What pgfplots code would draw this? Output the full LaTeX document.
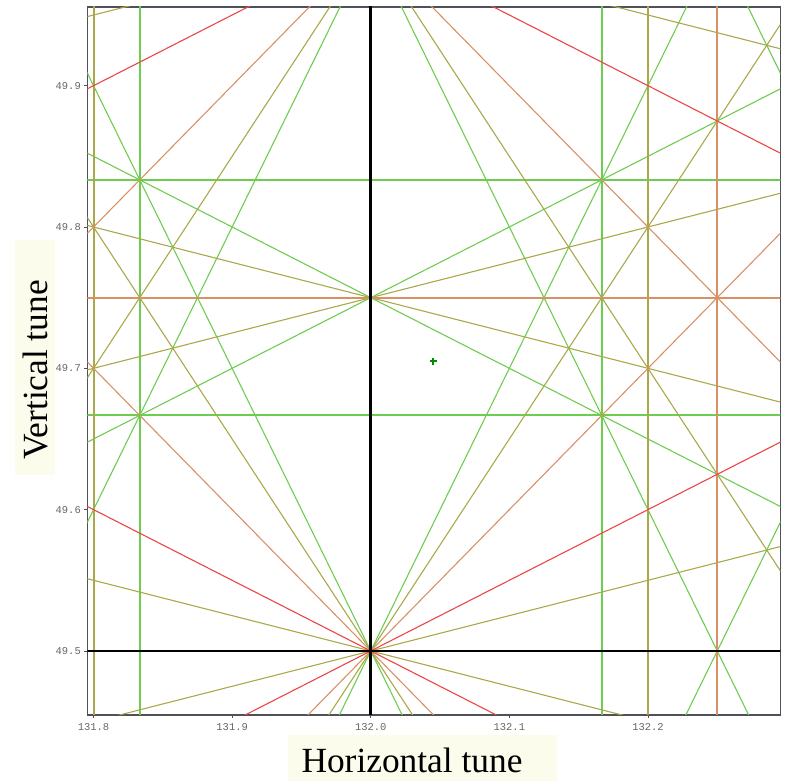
\documentclass[border=0pt]{standalone}
\usepackage{pgfplots}
\pgfplotsset{compat=1.18}
\usepackage{fontspec}
\setmainfont{Liberation Serif}
\newfontfamily\monofont{Liberation Mono}
\definecolor{resred}{RGB}{235,70,70}
\definecolor{resorange}{RGB}{215,145,100}
\definecolor{resolive}{RGB}{170,168,75}
\definecolor{resgreen}{RGB}{110,205,80}
\definecolor{cream}{RGB}{252,252,236}
\definecolor{framegray}{RGB}{80,80,90}
\begin{document}
\begin{tikzpicture}[x=1bp,y=1bp]
\useasboundingbox (0,0) rectangle (786,781);
\fill[cream] (288,0) rectangle (557,46);
\fill[cream] (15,306) rectangle (55,541);
\node[font=\fontsize{35.5}{40}\selectfont, anchor=base] at (412,8) {Horizontal tune};
\node[font=\fontsize{35.5}{40}\selectfont, rotate=90, anchor=base] at (47,411) {Vertical tune};
\begin{axis}[
  scale only axis,
  width=693bp, height=708bp,
  at={(87.3bp,66bp)}, anchor=south west,
  xmin=131.7955, xmax=132.2955,
  ymin=49.4547, ymax=49.9557,
  xtick={131.8,131.9,132.0,132.1,132.2},
  ytick={49.5,49.6,49.7,49.8,49.9},
  tick pos=left,
  tick align=outside,
  major tick length=3bp,
  tick style={framegray, line width=0.6bp},
  axis line style={framegray, line width=1.2bp},
  /pgf/number format/assume math mode=true,
  xticklabel style={font=\monofont\fontsize{10.5}{12}\selectfont, text=black!60, yshift=-2bp, /pgf/number format/.cd, fixed, fixed zerofill, precision=1, 1000 sep={}},
  yticklabel style={font=\monofont\fontsize{10.5}{12}\selectfont, text=black!60, /pgf/number format/.cd, fixed, fixed zerofill, precision=1, 1000 sep={}},
  every axis plot/.append style={line width=1.1bp},
  straight/.style={line width=2bp},
  clip=true,
]
% ---- order 6 (green)
\addplot[resgreen, straight] coordinates {(131.8333,49.3) (131.8333,50.1)};
\addplot[resgreen, straight] coordinates {(132.1667,49.3) (132.1667,50.1)};
\addplot[resgreen, straight] coordinates {(131.7,49.6667) (132.4,49.6667)};
\addplot[resgreen, straight] coordinates {(131.7,49.8333) (132.4,49.8333)};
\addplot[resgreen] coordinates {(131.75,49.875) (132.35,49.575)};
\addplot[resgreen] coordinates {(131.75,49.625) (132.35,49.925)};
\addplot[resgreen] coordinates {(131.75,50.0) (132.35,48.8)};
\addplot[resgreen] coordinates {(131.75,50.5) (132.35,49.3)};
\addplot[resgreen] coordinates {(131.75,51.0) (132.35,49.8)};
\addplot[resgreen] coordinates {(131.75,49.0) (132.35,50.2)};
\addplot[resgreen] coordinates {(131.75,49.5) (132.35,50.7)};
\addplot[resgreen] coordinates {(131.75,48.5) (132.35,49.7)};
% ---- order 5 (olive)
\addplot[resolive, straight] coordinates {(131.8,49.3) (131.8,50.1)};
\addplot[resolive, straight] coordinates {(132.2,49.3) (132.2,50.1)};
\addplot[resolive] coordinates {(131.75,49.5625) (132.35,49.4125)};
\addplot[resolive] coordinates {(131.75,49.8125) (132.35,49.6625)};
\addplot[resolive] coordinates {(131.75,50.0625) (132.35,49.9125)};
\addplot[resolive] coordinates {(131.75,49.4375) (132.35,49.5875)};
\addplot[resolive] coordinates {(131.75,49.6875) (132.35,49.8375)};
\addplot[resolive] coordinates {(131.75,49.9375) (132.35,50.0875)};
\addplot[resolive] coordinates {(131.75,49.875) (132.35,48.975)};
\addplot[resolive] coordinates {(131.75,50.375) (132.35,49.475)};
\addplot[resolive] coordinates {(131.75,49.125) (132.35,50.025)};
\addplot[resolive] coordinates {(131.75,49.625) (132.35,50.525)};
% ---- order 4 (orange)
\addplot[resorange, straight] coordinates {(132.25,49.3) (132.25,50.1)};
\addplot[resorange, straight] coordinates {(131.7,49.75) (132.4,49.75)};
\addplot[resorange] coordinates {(131.75,49.75) (132.35,49.15)};
\addplot[resorange] coordinates {(131.75,50.25) (132.35,49.65)};
\addplot[resorange] coordinates {(131.75,49.25) (132.35,49.85)};
\addplot[resorange] coordinates {(131.75,49.75) (132.35,50.35)};
% ---- order 3 (red)
\addplot[resred] coordinates {(131.75,49.625) (132.35,49.325)};
\addplot[resred] coordinates {(131.75,50.125) (132.35,49.825)};
\addplot[resred] coordinates {(131.75,49.375) (132.35,49.675)};
\addplot[resred] coordinates {(131.75,49.875) (132.35,50.175)};
% ---- orders 1 and 2 (black)
\addplot[black, line width=3.5bp] coordinates {(132.0,49.3) (132.0,50.1)};
\addplot[black, line width=2.6bp] coordinates {(131.7,49.5) (132.4,49.5)};
% ---- working point
\addplot[only marks, mark=+, mark size=3.5bp, mark options={line width=1.6bp}, color=green!55!black] coordinates {(132.045,49.705)};
\end{axis}
\end{tikzpicture}
\end{document}
